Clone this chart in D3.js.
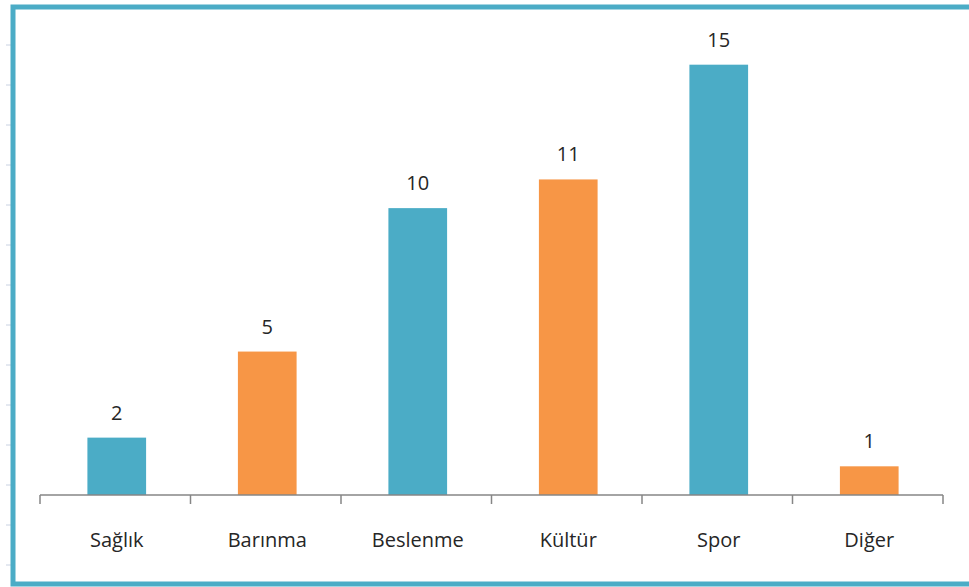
<!DOCTYPE html>
<html>
<head>
  <meta charset="utf-8">
  <script src="https://d3js.org/d3.v7.min.js"></script>
  <style>
    body { margin: 0; background: white; }
    svg text { font-family: 'Open Sans', 'Lato', sans-serif; fill: #262626; }
  </style>
</head>
<body>
  <svg width="969" height="587"></svg>
  <script>
    // chart data
    var categories = ['Sağlık', 'Barınma', 'Beslenme', 'Kültür', 'Spor', 'Diğer'];
    var values = [2, 5, 10, 11, 15, 1];
    var colors = ['#4BACC6', '#F79646', '#4BACC6', '#F79646', '#4BACC6', '#F79646'];

    var svg = d3.select('svg');
    var baseY = 495;

    var x = d3.scaleBand().domain(categories).range([40, 943]).padding(0);
    var y = d3.scaleLinear().domain([0, 16]).range([baseY, 36]);
    var barW = x.bandwidth() * 0.39;

    // faint ticks along left edge
    var side = d3.scaleLinear().domain([0, 13]).range([565, 45]);
    svg.append('g')
      .selectAll('line')
      .data(side.ticks(13))
      .join('line')
      .attr('x1', 6).attr('x2', 11)
      .attr('y1', function (d) { return side(d); })
      .attr('y2', function (d) { return side(d); })
      .attr('stroke', '#c9d2e2')
      .attr('stroke-width', 1);

    // frame
    svg.append('path')
      .attr('d', 'M975,7H13V584H975')
      .attr('fill', 'none')
      .attr('stroke', '#4BACC6')
      .attr('stroke-width', 5);

    // bars
    svg.append('g')
      .selectAll('rect')
      .data(categories)
      .join('rect')
      .attr('x', function (d) { return x(d) + (x.bandwidth() - barW) / 2 + 1.5; })
      .attr('y', function (d, i) { return y(values[i]); })
      .attr('width', barW)
      .attr('height', function (d, i) { return baseY - y(values[i]); })
      .attr('fill', function (d, i) { return colors[i]; });

    // value labels
    svg.append('g')
      .selectAll('text')
      .data(categories)
      .join('text')
      .attr('x', function (d) { return x(d) + x.bandwidth() / 2 + 1.5; })
      .attr('y', function (d, i) { return y(values[i]) - 18; })
      .attr('text-anchor', 'middle')
      .style('font-size', '20px')
      .text(function (d, i) { return values[i]; });

    // x axis line with boundary ticks
    var edges = categories.map(function (d) { return x(d); }).concat([x.range()[1]]);
    var axis = svg.append('g').attr('stroke', '#868686').attr('stroke-width', 1.5);
    axis.append('line')
      .attr('x1', 40).attr('x2', 943)
      .attr('y1', baseY).attr('y2', baseY);
    axis.selectAll('line.tick')
      .data(edges)
      .join('line')
      .attr('class', 'tick')
      .attr('x1', function (d) { return d; })
      .attr('x2', function (d) { return d; })
      .attr('y1', baseY).attr('y2', baseY + 9);

    // category labels
    svg.append('g')
      .selectAll('text')
      .data(categories)
      .join('text')
      .attr('x', function (d) { return x(d) + x.bandwidth() / 2 + 1.5; })
      .attr('y', 547)
      .attr('text-anchor', 'middle')
      .style('font-size', '20px')
      .text(function (d) { return d; });
  </script>
</body>
</html>
